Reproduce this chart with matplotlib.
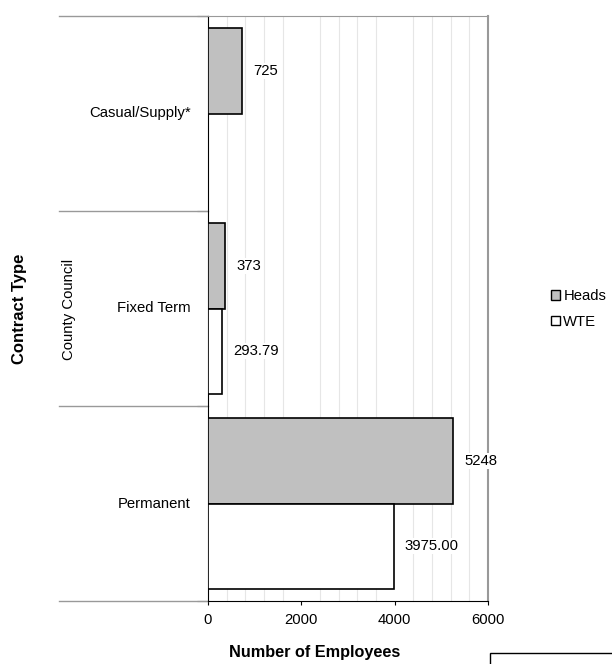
import matplotlib.pyplot as plt
import matplotlib.patches as mpatches
import matplotlib.transforms as mtransforms
import numpy as np

plt.rcParams['font.family'] = ['Liberation Sans', 'DejaVu Sans']

# data
categories = ['Permanent', 'Fixed Term', 'Casual/Supply*']
heads = [5248, 373, 725]
wte = [3975.00, 293.79, None]

fig = plt.figure(figsize=(6.12, 6.64), dpi=100)
ax = fig.add_axes([208/612, 1 - 601/664, 280/612, 585/664])

y = np.arange(len(categories))
h = 0.436

for i, v in enumerate(heads):
    ax.barh(y[i] + h/2, v, height=h, color='#c0c0c0', edgecolor='black', linewidth=1.2, zorder=3)
    ax.text(v + 240, y[i] + h/2, f'{v:d}', va='center', ha='left', fontsize=10.7,
            bbox=dict(facecolor='white', edgecolor='none', pad=1), zorder=4)
for i, v in enumerate(wte):
    if v is None:
        continue
    ax.barh(y[i] - h/2, v, height=h, color='white', edgecolor='black', linewidth=1.2, zorder=3)
    ax.text(v + 240, y[i] - h/2, f'{v:.2f}', va='center', ha='left', fontsize=10.7,
            bbox=dict(facecolor='white', edgecolor='none', pad=1), zorder=4)

ax.set_xlim(0, 6000)
ax.set_ylim(-0.5, 2.5)
ax.set_xticks([0, 2000, 4000, 6000])
ax.set_xticks(np.arange(0, 6001, 400), minor=True)
ax.grid(True, which='minor', axis='x', color='#e6e6e6', linewidth=0.8, zorder=0)
ax.tick_params(axis='x', which='major', length=3, labelsize=10.7, pad=6)
ax.tick_params(axis='x', which='minor', length=0)

# category boundaries on the left
ax.set_yticks([-0.5, 0.5, 1.5, 2.5])
ax.set_yticklabels([])
ax.tick_params(axis='y', length=8, width=0.8, color='#555555')
trans = mtransforms.blended_transform_factory(ax.transAxes, ax.transData)
for b in [-0.5, 0.5, 1.5, 2.5]:
    ax.plot([-0.532, 0], [b, b], color='#999999', linewidth=1, transform=trans, clip_on=False)
for i, c in enumerate(categories):
    ax.text((191 - 208) / 280, y[i], c, transform=trans, ha='right', va='center', fontsize=10.7)

ax.spines['top'].set_color('#999999')
ax.spines['right'].set_color('#999999')
ax.spines['right'].set_linewidth(1.5)
ax.spines['left'].set_color('black')
ax.spines['bottom'].set_color('black')

fig.text(20/612, 1 - 309/664, 'Contract Type', rotation=90, ha='center', va='center',
         fontsize=12, fontweight='bold')
fig.text(69/612, 1 - 309/664, 'County Council', rotation=90, ha='center', va='center', fontsize=10.7)
fig.text(315/612, 1 - 652/664, 'Number of Employees', ha='center', va='center',
         fontsize=11.7, fontweight='bold')

handles = [mpatches.Patch(facecolor='#c0c0c0', edgecolor='black', label='Heads'),
           mpatches.Patch(facecolor='white', edgecolor='black', label='WTE')]
fig.legend(handles=handles, loc='center left', bbox_to_anchor=(538/612, 1 - 309/664),
           frameon=False, handlelength=0.6, handleheight=0.6, handletextpad=0.2,
           labelspacing=0.8, fontsize=10.7)

# box at bottom right (cut off)
fig.patches.append(mpatches.Rectangle((490/612, -0.05), 0.3, (664 - 653)/664 + 0.05,
                                      transform=fig.transFigure, facecolor='white',
                                      edgecolor='black', linewidth=1))

fig.savefig('out.png', dpi=100)
